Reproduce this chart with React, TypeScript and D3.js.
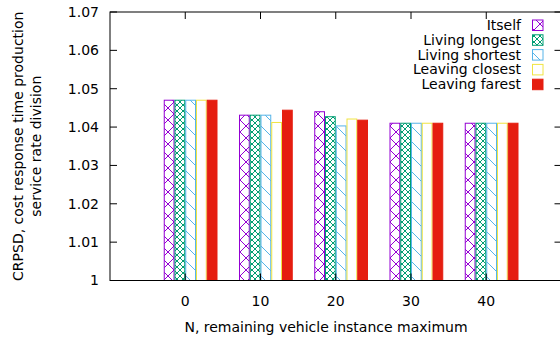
import React from "react";
import * as d3 from "d3";

const categories = ["0", "10", "20", "30", "40"];
const seriesNames = ["Itself", "Living longest", "Living shortest", "Leaving closest", "Leaving farest"];
const itself = [1.047, 1.0431, 1.044, 1.041, 1.041];
const livingLongest = [1.047, 1.0431, 1.0427, 1.041, 1.041];
const livingShortest = [1.047, 1.0431, 1.0403, 1.041, 1.041];
const leavingClosest = [1.047, 1.0412, 1.0421, 1.041, 1.041];
const leavingFarest = [1.047, 1.0444, 1.0418, 1.041, 1.041];
const yTicks = [1, 1.01, 1.02, 1.03, 1.04, 1.05, 1.06, 1.07];

const colors = ["#9400d3", "#009e73", "#56b4e9", "#f0e442", "#e51e10"];
const fills = ["url(#pat0)", "url(#pat1)", "url(#pat2)", "none", "#e51e10"];
const FONT = "DejaVu Sans, sans-serif";

export default function App() {
  const series = [itself, livingLongest, livingShortest, leavingClosest, leavingFarest];
  const x = d3.scaleLinear().domain([-1, 5]).range([110, 561.5]);
  const y = d3.scaleLinear().domain([1, 1.07]).range([280.5, 12]);
  const unit = x(1) - x(0);
  const bw = unit / 7;
  const left = 110, right = 561.5, top = 12, bottom = 280.5;

  return (
    <svg width={560} height={341} style={{ position: "absolute", left: 0, top: 0, background: "#fff" }} fontFamily={FONT}>
      <defs>
        <pattern id="pat0" patternUnits="userSpaceOnUse" width={12} height={12}>
          <path d="M0,0L12,12M12,0L0,12" stroke={colors[0]} strokeWidth={1} fill="none" />
        </pattern>
        <pattern id="pat1" patternUnits="userSpaceOnUse" width={6} height={6}>
          <path d="M0,0L6,6M6,0L0,6" stroke={colors[1]} strokeWidth={1} fill="none" />
        </pattern>
        <pattern id="pat2" patternUnits="userSpaceOnUse" width={15} height={15}>
          <path d="M0,0L15,15M-1,14L1,16M14,-1L16,1" stroke={colors[2]} strokeWidth={1} fill="none" />
        </pattern>
      </defs>

      {/* bars */}
      {categories.map((c, i) =>
        series.map((s, j) => {
          const x0 = x(i) - 2 * bw + j * bw;
          const yt = y(s[i]);
          return (
            <rect key={c + "-" + j} x={x0 + 0.5} y={yt} width={bw - 1} height={bottom - yt}
              fill={fills[j]} stroke={colors[j]} strokeWidth={1} />
          );
        })
      )}

      {/* border */}
      <rect x={left} y={top} width={right - left} height={bottom - top} fill="none" stroke="#000" strokeWidth={1} />

      {/* y ticks */}
      {yTicks.map((t) => (
        <g key={"y" + t}>
          <line x1={left} x2={left + 7} y1={y(t)} y2={y(t)} stroke="#000" />
          <line x1={right - 7} x2={right} y1={y(t)} y2={y(t)} stroke="#000" />
          <text x={left - 11} y={y(t)} dy="0.35em" textAnchor="end" fontSize={14} fill="#000">
            {t === 1 ? "1" : d3.format(".2f")(t)}
          </text>
        </g>
      ))}

      {/* x ticks */}
      {categories.map((c, i) => (
        <g key={"x" + c}>
          <line x1={x(i)} x2={x(i)} y1={top} y2={top + 7} stroke="#000" />
          <line x1={x(i)} x2={x(i)} y1={bottom} y2={bottom - 7} stroke="#000" />
          <text x={x(i)} y={bottom + 25} textAnchor="middle" fontSize={14} fill="#000">{c}</text>
        </g>
      ))}

      {/* axis titles */}
      <text x={326} y={332} textAnchor="middle" fontSize={14} fill="#000">N, remaining vehicle instance maximum</text>
      <text transform={`translate(23,${(top + bottom) / 2}) rotate(-90)`} textAnchor="middle" fontSize={14} fill="#000">
        CRPSD, cost response time production
      </text>
      <text transform={`translate(41,${(top + bottom) / 2}) rotate(-90)`} textAnchor="middle" fontSize={14} fill="#000">
        service rate division
      </text>

      {/* legend */}
      {seriesNames.map((n, j) => {
        const cy = 25 + j * 14.8;
        return (
          <g key={"lg" + j}>
            <text x={521} y={cy} dy="0.35em" textAnchor="end" fontSize={14} fill="#000">{n}</text>
            <rect x={532.5} y={cy - 5} width={10.5} height={10.5} fill={fills[j]} stroke={colors[j]} strokeWidth={1} />
          </g>
        );
      })}
    </svg>
  );
}
